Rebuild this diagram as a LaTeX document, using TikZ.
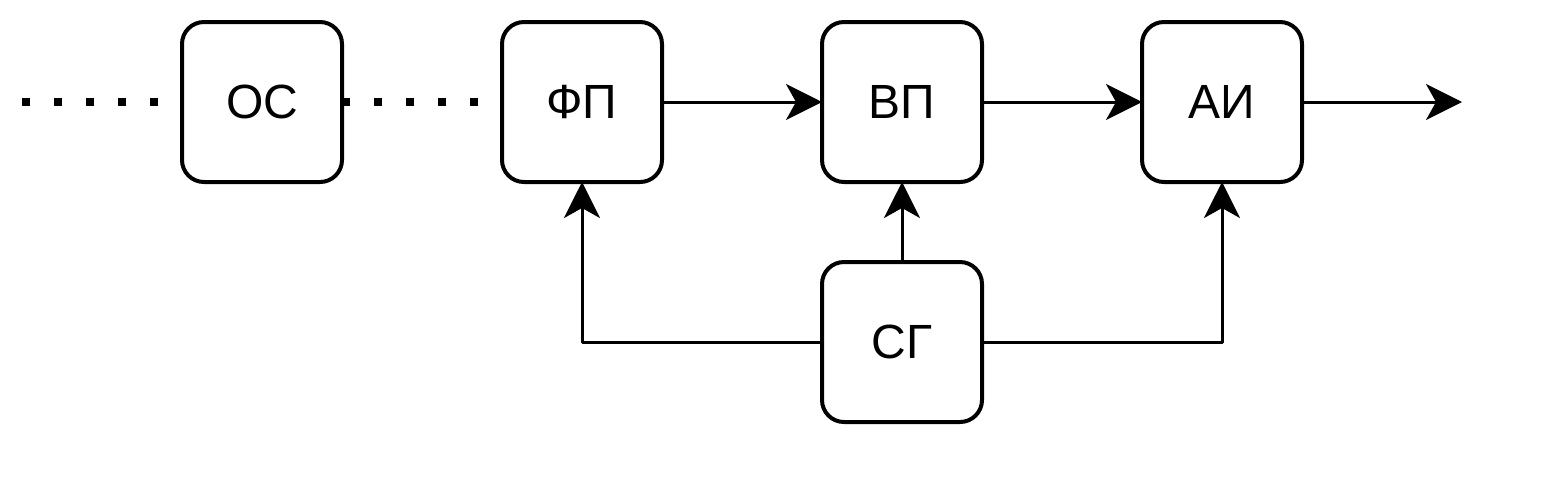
\documentclass[tikz,border=0pt]{standalone}
\usepackage{fontspec}
\setmainfont{Liberation Sans}
\usetikzlibrary{arrows.meta}
\tikzset{
	blok/.style={draw, line width=2pt, rounded corners=11pt, minimum size=80pt,
		inner sep=0pt, outer sep=0pt, font=\fontsize{24}{29}\selectfont},
	tochki/.style={line width=4pt, line cap=butt, dash pattern=on 4pt off 12pt}
}
\begin{document}
\begin{tikzpicture}[x=0.5pt, y=-0.5pt, line join=round, line width=1.5pt,
	>={Stealth[length=18pt, width=18pt, inset=5pt]}]
		\useasboundingbox (0,0) rectangle (1556,484);
		\path
		(22,102) coordinate (L)
		(1462,102) coordinate (R);
		\node[blok] (OS) at (262,102) {ОС};
		\node[blok] (FP) at (582,102) {ФП};
		\node[blok] (VP) at (902,102) {ВП};
		\node[blok] (AI) at (1222,102) {АИ};
		\node[blok] (SG) at (902,342) {СГ};
		\draw[tochki] (L) -- (OS.west) (OS.east) -- (FP.west);
		\draw[->] (FP) -- (VP);
		\draw[->] (VP) -- (AI);
		\draw[->] (AI) -- (R);
		\draw[->] (SG) -- (VP);
		\draw[->] (SG.west) -| (FP.south);
		\draw[->] (SG.east) -| (AI.south);
	\end{tikzpicture}
\end{document}
